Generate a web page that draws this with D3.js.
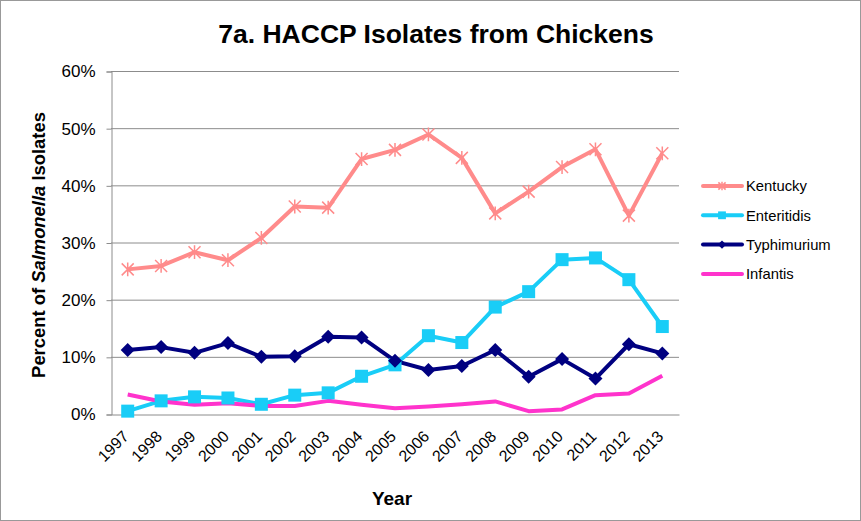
<!DOCTYPE html>
<html>
<head>
<meta charset="utf-8">
<script src="https://cdn.jsdelivr.net/npm/d3@7"></script>
<style>
body { margin: 0; background: #fff; }
svg { font-family: "Liberation Sans", Arial, sans-serif; }
</style>
</head>
<body>
<svg id="chart" width="861" height="521"></svg>
<script>
const years = ["1997","1998","1999","2000","2001","2002","2003","2004","2005","2006","2007","2008","2009","2010","2011","2012","2013"];
const kentucky = [25.3,25.9,28.3,26.9,30.8,36.3,36.1,44.6,46.2,48.9,44.8,35.1,38.9,43.2,46.3,34.7,45.6];
const enteritidis = [0.5,2.3,3.0,2.8,1.7,3.3,3.7,6.6,8.6,13.7,12.5,18.7,21.4,27.0,27.3,23.5,15.3];
const typhimurium = [11.2,11.7,10.7,12.4,10.0,10.1,13.5,13.4,9.3,7.7,8.4,11.2,6.5,9.6,6.2,12.2,10.6];
const infantis = [3.4,2.2,1.6,1.9,1.4,1.4,2.3,1.6,1.0,1.3,1.7,2.2,0.5,0.8,3.3,3.6,6.7];
const yTicks = [0,10,20,30,40,50,60];
const seriesNames = ["Kentucky","Enteritidis","Typhimurium","Infantis"];

const series = [
  {name: seriesNames[0], values: kentucky, color: "#ff8b8b", marker: "star"},
  {name: seriesNames[1], values: enteritidis, color: "#19cdf7", marker: "square"},
  {name: seriesNames[2], values: typhimurium, color: "#000080", marker: "diamond"},
  {name: seriesNames[3], values: infantis, color: "#ff33cc", marker: "none"}
];

const svg = d3.select("#chart");
svg.append("rect").attr("x",0.5).attr("y",0.5).attr("width",860).attr("height",520)
  .attr("fill","#fff").attr("stroke","#999");

const pLeft = 111, pRight = 679, pTop = 71, pBottom = 414;
const x = d3.scaleBand().domain(years).range([pLeft, pRight]);
const y = d3.scaleLinear().domain([0,60]).range([pBottom, pTop]);

// gridlines
svg.append("g").selectAll("line").data(yTicks.filter(d=>d>0)).join("line")
  .attr("x1", pLeft).attr("x2", pRight)
  .attr("y1", d=>y(d)+0.5).attr("y2", d=>y(d)+0.5)
  .attr("stroke","#8c8c8c").attr("stroke-width",1);

// y axis
const yAxis = d3.axisLeft(y).tickValues(yTicks).tickFormat(d=>d+"%").tickSize(5).tickPadding(11);
const gy = svg.append("g").attr("transform",`translate(${pLeft+0.5},0.5)`).call(yAxis);
gy.select(".domain").attr("stroke","#8c8c8c");
gy.selectAll(".tick line").attr("stroke","#8c8c8c");
gy.selectAll("text").attr("font-size",17).attr("fill","#000").attr("font-family","Liberation Sans, Arial, sans-serif");

// x axis
const xAxis = d3.axisBottom(x).tickSize(0).tickPadding(0);
const gx = svg.append("g").attr("transform",`translate(0,${pBottom+0.5})`).call(xAxis);
gx.select(".domain").attr("stroke","#8c8c8c");
gx.selectAll(".tick line").remove();
gx.selectAll("text").attr("font-size",16).attr("fill","#000")
  .attr("font-family","Liberation Sans, Arial, sans-serif")
  .attr("text-anchor","end").attr("x",0).attr("y",0).attr("dy","0")
  .attr("transform","translate(2,23) rotate(-45)");

// lines
const line = d3.line().x((d,i)=>x(years[i])+x.bandwidth()/2).y(d=>y(d));
series.forEach(s=>{
  svg.append("path").datum(s.values).attr("d",line)
    .attr("fill","none").attr("stroke",s.color).attr("stroke-width",4)
    .attr("stroke-linejoin","round");
});

function drawMarker(g, type, cx, cy, color, scale){
  scale = scale || 1;
  if(type==="square"){
    const s=13*scale;
    g.append("rect").attr("x",cx-s/2).attr("y",cy-s/2).attr("width",s).attr("height",s).attr("fill",color);
  } else if(type==="diamond"){
    const r=7*scale;
    g.append("path").attr("d",`M${cx},${cy-r}L${cx+r},${cy}L${cx},${cy+r}L${cx-r},${cy}Z`).attr("fill",color);
  } else if(type==="star"){
    const r=6*scale;
    const p=`M${cx-r},${cy-r}L${cx+r},${cy+r}M${cx-r},${cy+r}L${cx+r},${cy-r}M${cx},${cy-r*1.15}L${cx},${cy+r*1.15}`;
    g.append("path").attr("d",p).attr("stroke",color).attr("stroke-width",1.5).attr("fill","none");
  }
}
series.forEach(s=>{
  const g = svg.append("g");
  s.values.forEach((v,i)=>drawMarker(g, s.marker, x(years[i])+x.bandwidth()/2, y(v), s.color));
});

// legend
const lg = svg.append("g");
series.forEach((s,i)=>{
  const ly = 186 + i*29.3;
  lg.append("line").attr("x1",703).attr("x2",742).attr("y1",ly).attr("y2",ly)
    .attr("stroke",s.color).attr("stroke-width",4).attr("stroke-linecap","round");
  drawMarker(lg, s.marker, 722, ly, s.color, 0.6);
  lg.append("text").attr("x",746).attr("y",ly).attr("dy","0.36em")
    .attr("font-size",14.8).attr("fill","#000").text(s.name);
});

// title
svg.append("text").attr("x",436).attr("y",43).attr("text-anchor","middle")
  .attr("font-size",26.5).attr("font-weight","bold").text("7a. HACCP Isolates from Chickens");

// axis titles
svg.append("text").attr("x",392).attr("y",505).attr("text-anchor","middle")
  .attr("font-size",19).attr("font-weight","bold").text("Year");

const yt = svg.append("text").attr("transform","translate(45,245) rotate(-90)")
  .attr("text-anchor","middle").attr("font-size",18.4).attr("font-weight","bold");
yt.append("tspan").text("Percent of ");
yt.append("tspan").attr("font-style","italic").text("Salmonella");
yt.append("tspan").text(" Isolates");
</script>
</body>
</html>
